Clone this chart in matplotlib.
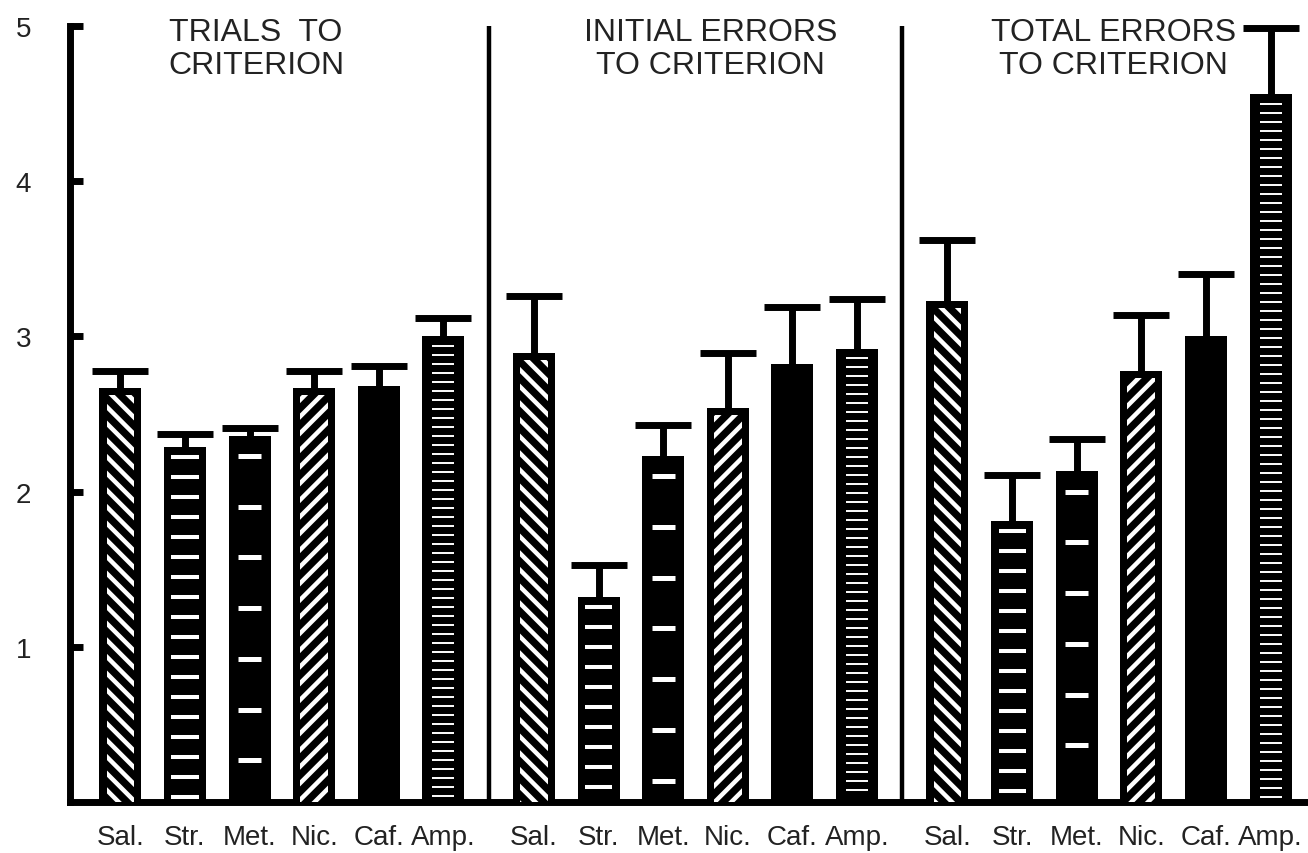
import numpy as np
import matplotlib.pyplot as plt

drugs = ['Sal.', 'Str.', 'Met.', 'Nic.', 'Caf.', 'Amp.']
titles = ['TRIALS  TO\nCRITERION', 'INITIAL ERRORS\nTO CRITERION', 'TOTAL ERRORS\nTO CRITERION']

trials = [2.67, 2.29, 2.36, 2.67, 2.68, 3.00]
trials_err = [0.11, 0.08, 0.05, 0.11, 0.13, 0.12]
initial = [2.89, 1.32, 2.23, 2.54, 2.82, 2.92]
initial_err = [0.37, 0.21, 0.20, 0.355, 0.37, 0.32]
total = [3.23, 1.81, 2.13, 2.78, 3.00, 4.56]
total_err = [0.39, 0.30, 0.21, 0.36, 0.40, 0.43]

plt.rcParams['font.family'] = ['Liberation Sans', 'DejaVu Sans']
plt.rcParams['hatch.linewidth'] = 3.2

fig = plt.figure(figsize=(13.08, 8.54), dpi=100)
ax = fig.add_axes([70 / 1308, 51 / 854, 1 - 70 / 1308, 776 / 854])

gap = 6.4
panels = [(trials, trials_err), (initial, initial_err), (total, total_err)]
title_x = [2.1, 9.13, 15.37]

all_x = []
for p, (vals, errs) in enumerate(panels):
    xs = np.arange(6) + p * gap
    all_x.extend(xs)
    vals = np.array(vals)

    # black bars
    ax.bar(xs, vals, width=0.65, color='black', linewidth=0, zorder=2)

    # white patterns inside
    for i, x in enumerate(xs):
        h = vals[i]
        if i in (0, 3):
            hatch = '\\\\' if i == 0 else '//'
            ax.bar(x, h - 0.045, width=0.43, facecolor='black', edgecolor='white',
                   hatch=hatch, linewidth=0, zorder=3)
        elif i == 1:
            ys = np.arange(h - 0.065, 0.03, -0.129)
            ax.hlines(ys, x - 0.21, x + 0.21, color='white', linewidth=2.9, zorder=3)
        elif i == 2:
            ys = np.arange(h - 0.13, 0.1, -0.327)
            ax.hlines(ys, x - 0.18, x + 0.18, color='white', linewidth=3.6, zorder=3)
        elif i == 5:
            ys = np.arange(h - 0.06, 0.03, -0.058)
            ax.hlines(ys, x - 0.17, x + 0.17, color='white', linewidth=1.4, zorder=3)

    eb = ax.errorbar(xs, vals, yerr=[np.zeros(6), errs], fmt='none', ecolor='black',
                     elinewidth=5, capsize=20, capthick=5, zorder=1.5)
    eb[1][0].set_visible(False)
    for art in eb.get_children():
        art.set_clip_on(False)

    ax.text(title_x[p], 4.855, titles[p], ha='center', va='center', fontsize=23,
            linespacing=1.12, color='#222222')

# panel separators
ax.vlines([5.7, 12.1], 0, 5, color='black', linewidth=3.2, zorder=2)

ax.set_xlim(-0.78, 18.38)
ax.set_ylim(0, 5)
ax.spines['top'].set_visible(False)
ax.spines['right'].set_visible(False)
ax.spines['left'].set_linewidth(5)
ax.spines['bottom'].set_linewidth(5)

ax.set_yticks([1, 2, 3, 4, 5])
ax.tick_params(axis='y', direction='in', length=9, width=5, pad=28, labelsize=20,
               labelcolor='#222222')
ax.set_xticks(all_x, drugs * 3)
ax.tick_params(axis='x', length=0, pad=16, labelsize=20, labelcolor='#222222')

fig.savefig('out.png', dpi=100)
